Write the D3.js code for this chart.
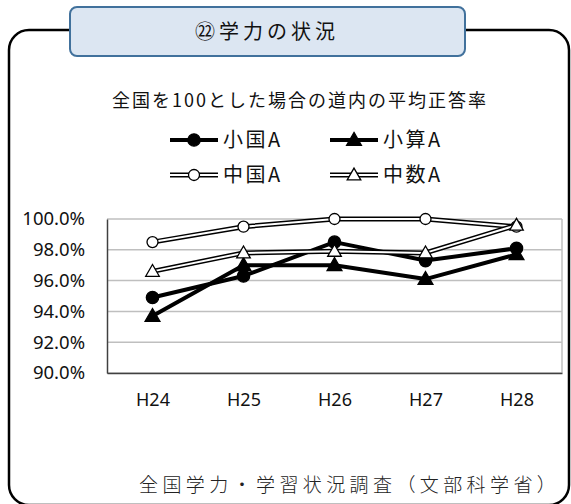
<!DOCTYPE html>
<html>
<head>
<meta charset="utf-8">
<script src="https://cdn.jsdelivr.net/npm/d3@7"></script>
<style>
  body { margin: 0; background: #fff; }
  svg { display: block; }
</style>
</head>
<body>
<div id="chart"></div>
<script>
// 全国を100とした場合の道内の平均正答率
var categories = ["H24", "H25", "H26", "H27", "H28"];
var seriesNames = ["小国A", "小算A", "中国A", "中数A"];
var shoKokugoA = [94.9, 96.3, 98.5, 97.3, 98.1];
var shoSansuA = [93.7, 97.0, 97.0, 96.1, 97.7];
var chuKokugoA = [98.5, 99.5, 100.0, 100.0, 99.5];
var chuSugakuA = [96.6, 97.8, 97.9, 97.8, 99.6];
var yTicks = [90, 92, 94, 96, 98, 100];

var W = 571, H = 504;
var margin = { top: 219, right: 9, bottom: 131, left: 107 };
var plotW = W - margin.left - margin.right;
var plotH = H - margin.top - margin.bottom;

var jp = '"Noto Sans CJK JP", "Noto Sans", sans-serif';
var num = '"Noto Sans", "DejaVu Sans", sans-serif';

var svg = d3.select('#chart').append('svg')
  .attr('width', W)
  .attr('height', H);

// outer rounded frame
svg.append('rect')
  .attr('x', 9).attr('y', 30)
  .attr('width', 560).attr('height', 475)
  .attr('rx', 20)
  .attr('fill', 'none')
  .attr('stroke', '#000')
  .attr('stroke-width', 2.5);

// heading box
svg.append('rect')
  .attr('x', 70).attr('y', 7)
  .attr('width', 395).attr('height', 49)
  .attr('rx', 7)
  .attr('fill', '#dce6f2')
  .attr('stroke', '#41719c')
  .attr('stroke-width', 2);

svg.append('text')
  .attr('x', 267).attr('y', 39)
  .attr('text-anchor', 'middle')
  .attr('font-family', jp)
  .attr('font-size', '20px')
  .attr('letter-spacing', '4px')
  .attr('fill', '#111')
  .text('㉒学力の状況');

// chart title
svg.append('text')
  .attr('x', 300).attr('y', 107)
  .attr('text-anchor', 'middle')
  .attr('font-family', jp)
  .attr('font-size', '18px')
  .attr('letter-spacing', '2px')
  .attr('fill', '#111')
  .text('全国を100とした場合の道内の平均正答率');

// scales
var x = d3.scalePoint()
  .domain(categories)
  .range([margin.left, margin.left + plotW])
  .padding(0.5);

var y = d3.scaleLinear()
  .domain([90, 100])
  .range([margin.top + plotH, margin.top]);

// grid
var grid = svg.append('g');
grid.selectAll('line')
  .data(yTicks)
  .join('line')
  .attr('x1', margin.left)
  .attr('x2', margin.left + plotW)
  .attr('y1', d => y(d))
  .attr('y2', d => y(d))
  .attr('stroke', '#bfbfbf')
  .attr('stroke-width', 1.5);

grid.append('line')
  .attr('x1', margin.left + plotW).attr('x2', margin.left + plotW)
  .attr('y1', margin.top).attr('y2', margin.top + plotH)
  .attr('stroke', '#bfbfbf')
  .attr('stroke-width', 1.5);

// axes
var yAxis = svg.append('g')
  .attr('transform', `translate(${margin.left},0)`)
  .call(d3.axisLeft(y).tickValues(yTicks).tickSize(0).tickPadding(22)
    .tickFormat(d => d.toFixed(1) + '%'));
yAxis.select('.domain').attr('stroke', '#404040').attr('stroke-width', 1.5);
yAxis.selectAll('text')
  .attr('font-family', num)
  .attr('font-size', '18.5px')
  .attr('fill', '#111');

var xAxis = svg.append('g')
  .attr('transform', `translate(0,${margin.top + plotH})`)
  .call(d3.axisBottom(x).tickSize(0).tickPadding(20));
xAxis.select('.domain').attr('stroke', '#404040').attr('stroke-width', 1.5);
xAxis.selectAll('text')
  .attr('font-family', num)
  .attr('font-size', '18px')
  .attr('fill', '#111');

// series
var series = [
  { name: seriesNames[0], values: shoKokugoA, marker: 'circle', filled: true },
  { name: seriesNames[1], values: shoSansuA, marker: 'triangle', filled: true },
  { name: seriesNames[2], values: chuKokugoA, marker: 'circle', filled: false },
  { name: seriesNames[3], values: chuSugakuA, marker: 'triangle', filled: false }
];

var line = d3.line()
  .x((d, i) => x(categories[i]))
  .y(d => y(d));

function drawMarker(g, s, cx, cy) {
  var sym = s.marker === 'circle'
    ? d3.symbol(d3.symbolCircle, s.filled ? 120 : 95)
    : d3.symbol(d3.symbolTriangle, s.filled ? 95 : 80);
  g.append('path')
    .attr('d', sym())
    .attr('transform', `translate(${cx},${cy + (s.marker === 'triangle' ? 1 : 0)})`)
    .attr('fill', s.filled ? '#000' : '#fff')
    .attr('stroke', '#000')
    .attr('stroke-width', 1.3);
}

function drawLine(g, s, d) {
  if (s.filled) {
    g.append('path').attr('d', d).attr('fill', 'none')
      .attr('stroke', '#000').attr('stroke-width', 4)
      .attr('stroke-linejoin', 'round');
  } else {
    g.append('path').attr('d', d).attr('fill', 'none')
      .attr('stroke', '#000').attr('stroke-width', 5)
      .attr('stroke-linejoin', 'round');
    g.append('path').attr('d', d).attr('fill', 'none')
      .attr('stroke', '#fff').attr('stroke-width', 2)
      .attr('stroke-linejoin', 'round');
  }
}

var plot = svg.append('g');
series.forEach(function (s) {
  var g = plot.append('g');
  drawLine(g, s, line(s.values));
  s.values.forEach(function (v, i) {
    drawMarker(g, s, x(categories[i]), y(v));
  });
});

// legend
var legendPos = [[170, 140], [330, 140], [170, 175], [330, 175]];
series.forEach(function (s, i) {
  var lx = legendPos[i][0], ly = legendPos[i][1];
  var g = svg.append('g');
  drawLine(g, s, `M${lx},${ly}H${lx + 48}`);
  drawMarker(g, s, lx + 24, ly);
  g.append('text')
    .attr('x', lx + 53).attr('y', ly)
    .attr('dy', '0.36em')
    .attr('font-family', jp)
    .attr('font-size', '20px')
    .attr('letter-spacing', '2.5px')
    .attr('fill', '#111')
    .text(s.name);
});

// source note
svg.append('text')
  .attr('x', 139).attr('y', 492)
  .attr('font-family', jp)
  .attr('font-size', '19px')
  .attr('font-weight', 300)
  .attr('letter-spacing', '4.4px')
  .attr('fill', '#222')
  .text('全国学力・学習状況調査（文部科学省）');
</script>
</body>
</html>
